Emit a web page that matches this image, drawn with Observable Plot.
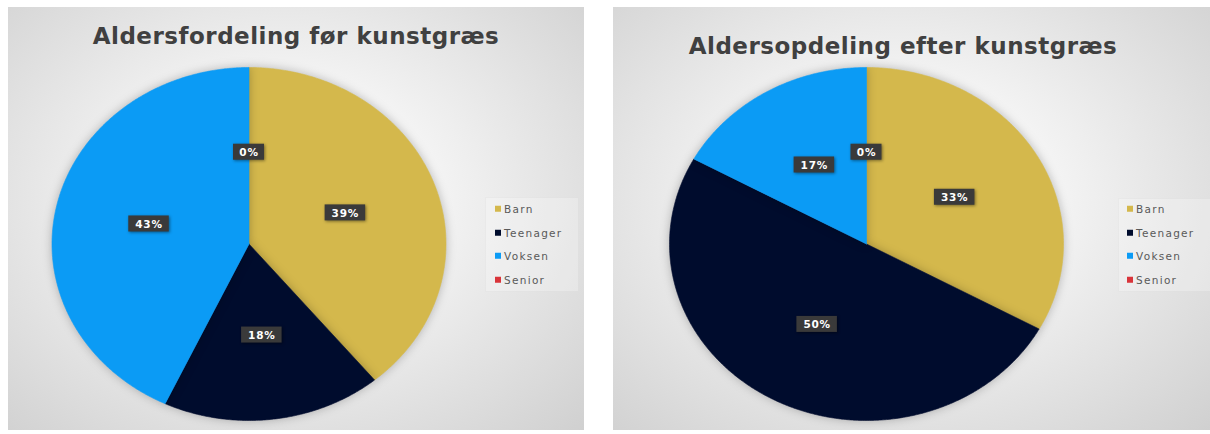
<!DOCTYPE html>
<html>
<head>
<meta charset="utf-8">
<script src="https://cdn.jsdelivr.net/npm/d3@7"></script>
<script src="https://cdn.jsdelivr.net/npm/@observablehq/plot@0.6"></script>
<style>
html, body { margin: 0; padding: 0; background: #ffffff; }
body { width: 1210px; height: 434px; position: relative; overflow: hidden; font-family: "DejaVu Sans", sans-serif; }
.panel { position: absolute; overflow: hidden;
  background: radial-gradient(ellipse farthest-corner at 48% 45%, #ffffff 0%, #f4f4f4 35%, #d0d0d0 100%); }
.panel svg { position: absolute; left: 0; top: 0; }
.title { position: absolute; font-family: "DejaVu Sans", sans-serif; font-weight: bold; font-size: 23px;
  color: #404040; white-space: nowrap; transform: translate(-50%, -100%); letter-spacing: 0.5px; line-height: 1; }
.legend { position: absolute; background: rgba(255,255,255,0.25); border: 1px solid rgba(0,0,0,0.03); }
.legend .row { position: absolute; left: 0; white-space: nowrap; font-family: "DejaVu Sans", sans-serif;
  font-size: 10.5px; color: #595959; letter-spacing: 1.3px; line-height: 1; transform: translateY(-50%); }
.legend .sw { display: inline-block; width: 6px; height: 6px; margin-right: 3px; vertical-align: 1px; }
</style>
</head>
<body>
<script>
// ---- data ----
const categories = ["Barn", "Teenager", "Voksen", "Senior"];
const sliceColors = ["#D4B84C", "#000C2D", "#0B9BF5", "#D9343A"];
const valuesBefore = [39, 18, 43, 0];
const valuesAfter = [33, 50, 17, 0];
const titleBefore = "Aldersfordeling før kunstgræs";
const titleAfter = "Aldersopdeling efter kunstgræs";

// ---- layout ----
const panels = [
  { left: 8, top: 7, width: 576, height: 423, cx: 240.5, cy: 236.5, rx: 197, ry: 176.5,
    values: valuesBefore, title: titleBefore, titleX: 288, titleY: 36,
    legendBox: [477, 190, 92, 93], legendX: 486, legendRows: [201, 224.5, 248, 271.5] },
  { left: 613, top: 7, width: 597, height: 423, cx: 253, cy: 236.5, rx: 197, ry: 176.5,
    values: valuesAfter, title: titleAfter, titleX: 290, titleY: 46,
    legendBox: [505, 191, 92, 92], legendX: 513, legendRows: [201, 224.5, 248, 271.5] }
];

const labelR = 0.52;

function drawPanel(p) {
  const div = document.createElement("div");
  div.className = "panel";
  Object.assign(div.style, { left: p.left + "px", top: p.top + "px", width: p.width + "px", height: p.height + "px" });
  document.body.appendChild(div);

  const arcs = d3.pie().sort(null).value(d => d)(p.values);
  const marks = [];
  arcs.forEach((a, i) => {
    const span = a.endAngle - a.startAngle;
    if (span <= 0) return;
    const n = Math.max(2, Math.ceil(span / (Math.PI / 360)));
    const pts = [{ x: 0, y: 0 }];
    for (let k = 0; k <= n; k++) {
      const t = a.startAngle + span * k / n;
      pts.push({ x: Math.sin(t), y: Math.cos(t) });
    }
    pts.push({ x: 0, y: 0 });
    marks.push(Plot.line(pts, { x: "x", y: "y", fill: sliceColors[i], stroke: sliceColors[i], strokeWidth: 0.6, curve: "linear" }));
  });

  const labels = arcs.map((a, i) => {
    const m = (a.startAngle + a.endAngle) / 2;
    const text = p.values[i] + "%";
    return { x: labelR * Math.sin(m), y: labelR * Math.cos(m), text, hw: (12 + 9.5 * text.length) / 2 };
  });
  marks.push(Plot.rect(labels, {
    x1: d => d.x - d.hw / p.rx, x2: d => d.x + d.hw / p.rx,
    y1: d => d.y - 8 / p.ry, y2: d => d.y + 8 / p.ry,
    fill: "#3a3a3a"
  }));
  marks.push(Plot.text(labels, {
    x: "x", y: "y", text: "text", fill: "white", fontSize: 10.5, fontWeight: "bold",
    fontFamily: "DejaVu Sans", dy: 0.5
  }));

  const svg = Plot.plot({
    width: p.width, height: p.height, margin: 0,
    x: { domain: [-p.cx / p.rx, (p.width - p.cx) / p.rx], axis: null },
    y: { domain: [-(p.height - p.cy) / p.ry, p.cy / p.ry], axis: null },
    style: { background: "transparent", overflow: "visible" },
    marks
  });
  div.appendChild(svg);
  svg.querySelectorAll('g[aria-label="line"]').forEach(g => g.style.filter = "drop-shadow(0px 0px 5px rgba(0,0,0,0.25))");
  svg.querySelectorAll('g[aria-label="rect"]').forEach(g => g.style.filter = "drop-shadow(1px 1px 1.5px rgba(0,0,0,0.45))");
  svg.querySelectorAll('g[aria-label="text"] text').forEach(el => el.style.letterSpacing = "0.8px");

  const t = document.createElement("div");
  t.className = "title";
  t.textContent = p.title;
  Object.assign(t.style, { left: p.titleX + "px", top: (p.titleY + 5) + "px" });
  div.appendChild(t);

  const lg = document.createElement("div");
  lg.className = "legend";
  Object.assign(lg.style, { left: p.legendBox[0] + "px", top: p.legendBox[1] + "px", width: p.legendBox[2] + "px", height: p.legendBox[3] + "px" });
  div.appendChild(lg);
  categories.forEach((c, i) => {
    const row = document.createElement("div");
    row.className = "row";
    row.style.left = (p.legendX - p.legendBox[0]) + "px";
    row.style.top = (p.legendRows[i] - p.legendBox[1]) + "px";
    const sw = document.createElement("span");
    sw.className = "sw";
    sw.style.background = sliceColors[i];
    row.appendChild(sw);
    row.appendChild(document.createTextNode(c));
    lg.appendChild(row);
  });
}

panels.forEach(drawPanel);
</script>
</body>
</html>
